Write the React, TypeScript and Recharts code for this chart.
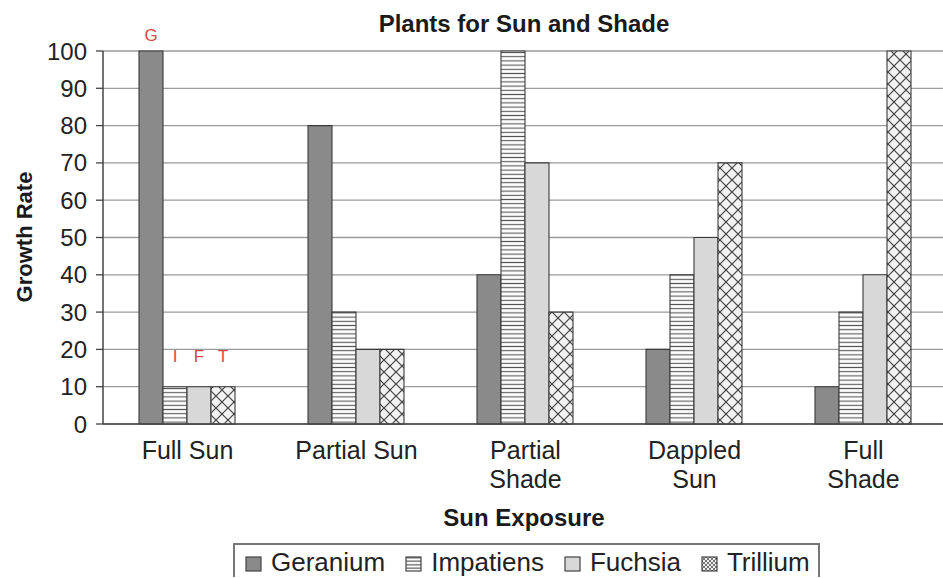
import React from "react";
import { BarChart, Bar, XAxis, YAxis, CartesianGrid, LabelList, Legend } from "recharts";

const categories = ["Full Sun", "Partial Sun", "Partial\nShade", "Dappled\nSun", "Full\nShade"];
const geranium = [100, 80, 40, 20, 10];
const impatiens = [10, 30, 100, 40, 30];
const fuchsia = [10, 20, 70, 50, 40];
const trillium = [10, 20, 30, 70, 100];
const seriesNames = ["Geranium", "Impatiens", "Fuchsia", "Trillium"];
const markerLetters = ["G", "I", "F", "T"];
const yTicks = [0, 10, 20, 30, 40, 50, 60, 70, 80, 90, 100];

const data = categories.map((c, i) => ({
  category: c,
  Geranium: geranium[i],
  Impatiens: impatiens[i],
  Fuchsia: fuchsia[i],
  Trillium: trillium[i],
}));

const FONT = "'Liberation Sans', Arial, sans-serif";

const fills: Record<string, string> = {
  Geranium: "#8a8a8a",
  Impatiens: "url(#hstripes)",
  Fuchsia: "#d8d8d8",
  Trillium: "url(#crosshatch)",
};

const labelGaps = [10, 25, 25, 25];

const makeLabel = (letter: string, gap: number) => (props: any) => {
  const { x, y, width, index } = props;
  if (index !== 0) return null;
  return (
    <text x={Number(x) + Number(width) / 2} y={Number(y) - gap} textAnchor="middle" fill="#d9483f" fontSize={17} fontFamily={FONT}>
      {letter}
    </text>
  );
};

const XTick = (props: any) => {
  const { x, y, payload } = props;
  const lines = String(payload.value).split("\n");
  return (
    <text x={x} y={y} textAnchor="middle" fill="#222" fontSize={25} fontFamily={FONT}>
      {lines.map((l, i) => (
        <tspan key={i} x={x} dy={i === 0 ? 35 : 29}>
          {l}
        </tspan>
      ))}
    </text>
  );
};

const LegendIcon = ({ name }: { name: string }) => (
  <svg width={17} height={16} style={{ display: "block", marginTop: 3 }}>
    <defs>
      <pattern id="lg-stripes" width={4} height={3.5} patternUnits="userSpaceOnUse">
        <rect width={4} height={3.5} fill="#fff" />
        <line x1={0} y1={1.75} x2={4} y2={1.75} stroke="#555" strokeWidth={1.2} />
      </pattern>
      <pattern id="lg-check" width={4} height={4} patternUnits="userSpaceOnUse">
        <rect width={4} height={4} fill="#eee" />
        <rect width={2} height={2} fill="#777" />
        <rect x={2} y={2} width={2} height={2} fill="#777" />
      </pattern>
    </defs>
    <rect
      x={1}
      y={1}
      width={15}
      height={14}
      fill={
        name === "Geranium" ? "#8a8a8a" : name === "Impatiens" ? "url(#lg-stripes)" : name === "Fuchsia" ? "#d8d8d8" : "url(#lg-check)"
      }
      stroke="#444"
      strokeWidth={1.2}
    />
  </svg>
);

const LegendBox = () => (
  <div
    style={{
      display: "inline-flex",
      alignItems: "center",
      border: "2px solid #777",
      borderBottom: "none",
      height: 34,
      padding: "2px 8px 0 10px",
      boxSizing: "border-box",
      fontFamily: FONT,
      fontSize: 26,
      color: "#222",
      background: "#fff",
    }}
  >
    {seriesNames.map((n, i) => (
      <div key={n} style={{ display: "flex", alignItems: "center", marginRight: i < seriesNames.length - 1 ? 20 : 0 }}>
        <LegendIcon name={n} />
        <span style={{ marginLeft: 9, lineHeight: "26px" }}>{n}</span>
      </div>
    ))}
  </div>
);

export default function App() {
  return (
    <div style={{ position: "absolute", left: 0, top: 0, width: 943, height: 578, overflow: "hidden", background: "#fff" }}>
      <BarChart
        width={960}
        height={578}
        data={data}
        margin={{ top: 51, right: 12, bottom: 0, left: 0 }}
        barCategoryGap={36}
        barGap={0}
      >
        <defs>
          <pattern id="hstripes" width={8} height={4.2} patternUnits="userSpaceOnUse">
            <rect width={8} height={4.2} fill="#fdfdfd" />
            <line x1={0} y1={2.1} x2={8} y2={2.1} stroke="#555" strokeWidth={1.1} />
          </pattern>
          <pattern id="crosshatch" width={12} height={12} patternUnits="userSpaceOnUse">
            <rect width={12} height={12} fill="#f2f2f2" />
            <line x1={0} y1={0} x2={12} y2={12} stroke="#444" strokeWidth={1.2} />
            <line x1={12} y1={0} x2={0} y2={12} stroke="#444" strokeWidth={1.2} />
          </pattern>
        </defs>
        <CartesianGrid vertical={false} stroke="#9a9a9a" strokeWidth={1.3} />
        <XAxis
          dataKey="category"
          tick={<XTick />}
          tickLine={false}
          tickSize={0}
          tickMargin={0}
          axisLine={{ stroke: "#444", strokeWidth: 1.5 }}
          height={114}
          interval={0}
        />
        <YAxis
          domain={[0, 100]}
          ticks={yTicks}
          width={103}
          tickSize={7}
          tickMargin={9}
          tickLine={{ stroke: "#444", strokeWidth: 1.3 }}
          axisLine={{ stroke: "#444", strokeWidth: 1.5 }}
          tick={{ fill: "#222", fontSize: 24, fontFamily: FONT }}
          interval={0}
        />
        <Legend
          verticalAlign="bottom"
          content={() => <LegendBox />}
          wrapperStyle={{ position: "absolute", left: 233, top: 543, width: "auto", height: 40 }}
        />
        {seriesNames.map((n, i) => (
          <Bar key={n} dataKey={n} fill={fills[n]} stroke="#3a3a3a" strokeWidth={1.1} isAnimationActive={false}>
            <LabelList dataKey={n} content={makeLabel(markerLetters[i], labelGaps[i])} />
          </Bar>
        ))}
        <text x={524} y={32} textAnchor="middle" fontSize={24} fontWeight="bold" fill="#1a1a1a" fontFamily={FONT}>
          Plants for Sun and Shade
        </text>
        <text x={524} y={526} textAnchor="middle" fontSize={24} fontWeight="bold" fill="#1a1a1a" fontFamily={FONT}>
          Sun Exposure
        </text>
        <text transform="translate(32,237) rotate(-90)" x={0} y={0} textAnchor="middle" fontSize={22} fontWeight="bold" fill="#1a1a1a" fontFamily={FONT}>
          Growth Rate
        </text>
      </BarChart>
    </div>
  );
}
